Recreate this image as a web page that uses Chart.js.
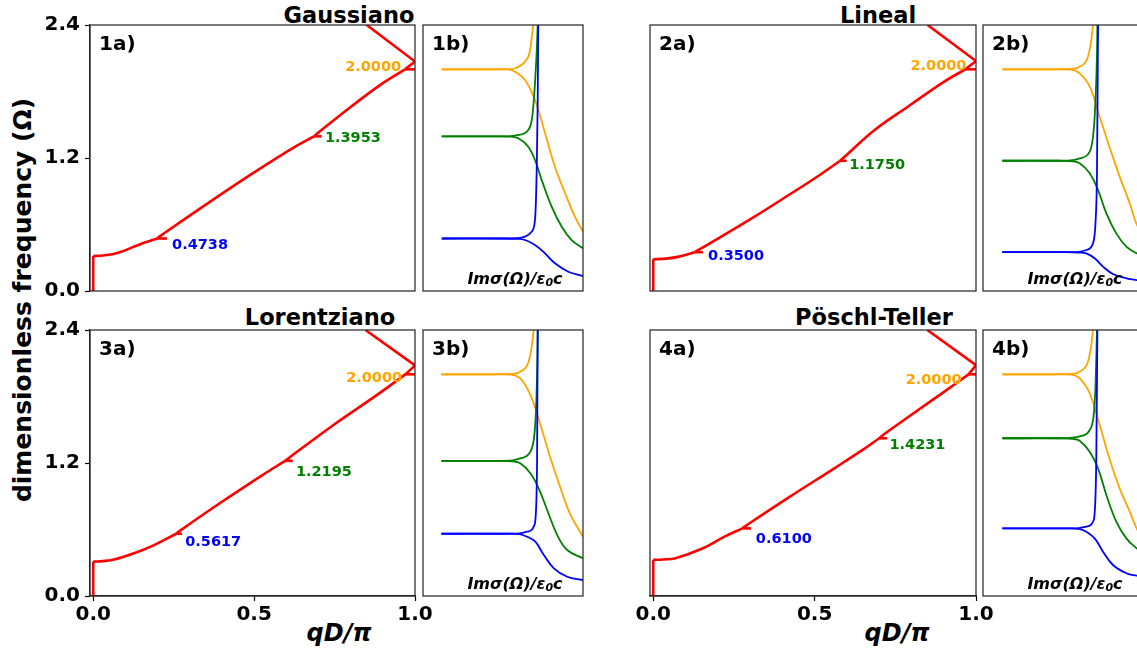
<!DOCTYPE html>
<html>
<head>
<meta charset="utf-8">
<script src="https://cdn.jsdelivr.net/npm/chart.js@4.4.0/dist/chart.umd.min.js"></script>
<style>
  html, body { margin: 0; padding: 0; background: #fff; }
  body { width: 1137px; height: 652px; position: relative; overflow: hidden; font-family: 'DejaVu Sans', sans-serif; }
  canvas { position: absolute; }
  .txt { position: absolute; white-space: nowrap; font-weight: bold; line-height: 1; color: #000; }
  .title { font-size: 22.5px; transform: translate(-50%, -50%); }
  .xlab { font-size: 24px; font-style: italic; transform: translate(-50%, -50%); }
  .plab { font-size: 20px; transform: translateY(-50%); }
  .imlab { font-size: 16px; font-style: italic; transform: translate(-50%, -100%); }
  .imlab sub { font-size: 11px; vertical-align: -2px; }
  .ann { font-size: 14.5px; transform: translateY(-50%); }
</style>
</head>
<body>

<div class="txt title" style="left:349px; top:15px;">Gaussiano</div>
<div class="txt title" style="left:878px; top:15px;">Lineal</div>
<div class="txt title" style="left:320px; top:317px;">Lorentziano</div>
<div class="txt title" style="left:874px; top:317px;">Pöschl-Teller</div>
<div class="txt" style="left:22px; top:300px; font-size:25px; transform:translate(-50%,-50%) rotate(-90deg);">dimensionless frequency (Ω)</div>
<div class="txt xlab" style="left:339px; top:633px;">qD/π</div>
<div class="txt xlab" style="left:897px; top:633px;">qD/π</div>

<script>
// ejes
var xTicks = [0, 0.5, 1.0];
var yTicks = [0, 1.2, 2.4];
var xRangeA = [-0.01, 1.0];
var xRangeB = [0, 1];
var yRange = [0, 2.4];

// bandas (qD/pi, Omega): tramos curvos
var a1Bands = [
  [[0,0.316],[0.03,0.32],[0.063,0.334],[0.095,0.362],[0.125,0.398],[0.16,0.437],[0.198,0.4738]],
  [[0.198,0.4738],[0.21,0.50],[0.35,0.78],[0.50,1.07],[0.62,1.29],[0.686,1.3953]],
  [[0.686,1.3953],[0.70,1.43],[0.80,1.66],[0.90,1.875],[0.969,2.0]]
];
// tramos rectos: subida en q=0, espolones y pico en q=1
var a1Straight = [
  [[0,0],[0,0.316]],
  [[0.198,0.4738],[0.229,0.4738]],
  [[0.686,1.3953],[0.71,1.3953]],
  [[0.969,2.0],[1.0,2.0]],
  [[0.969,2.0],[1.0,2.07],[0.85,2.4]]
];

var a2Bands = [
  [[0,0.286],[0.04,0.292],[0.08,0.31],[0.128,0.35]],
  [[0.128,0.35],[0.14,0.37],[0.207,0.484],[0.314,0.671],[0.42,0.866],[0.516,1.047],[0.579,1.175]],
  [[0.579,1.175],[0.60,1.23],[0.686,1.453],[0.792,1.669],[0.898,1.883],[0.967,2.0]]
];
var a2Straight = [
  [[0,0],[0,0.286]],
  [[0.128,0.35],[0.154,0.35]],
  [[0.579,1.175],[0.599,1.175]],
  [[0.967,2.0],[1.0,2.0]],
  [[0.967,2.0],[1.0,2.075],[0.85,2.4]]
];

var a3Bands = [
  [[0,0.31],[0.03,0.315],[0.068,0.332],[0.127,0.386],[0.186,0.455],[0.258,0.5617]],
  [[0.258,0.5617],[0.27,0.59],[0.40,0.85],[0.52,1.08],[0.596,1.2195]],
  [[0.596,1.2195],[0.61,1.25],[0.75,1.55],[0.88,1.81],[0.97,2.0]]
];
var a3Straight = [
  [[0,0],[0,0.31]],
  [[0.258,0.5617],[0.276,0.5617]],
  [[0.596,1.2195],[0.62,1.2195]],
  [[0.97,2.0],[1.0,2.0]],
  [[0.97,2.0],[1.0,2.08],[0.846,2.4]]
];

var a4Bands = [
  [[0,0.326],[0.03,0.33],[0.069,0.341],[0.154,0.431],[0.218,0.531],[0.276,0.61]],
  [[0.276,0.61],[0.29,0.64],[0.42,0.89],[0.56,1.15],[0.65,1.32],[0.70,1.4231]],
  [[0.70,1.4231],[0.715,1.46],[0.80,1.635],[0.90,1.84],[0.977,2.0]]
];
var a4Straight = [
  [[0,0],[0,0.326]],
  [[0.276,0.61],[0.303,0.61]],
  [[0.70,1.4231],[0.725,1.4231]],
  [[0.977,2.0],[1.0,2.0]],
  [[0.977,2.0],[1.0,2.083],[0.849,2.4]]
];

// valores marcados y donde va cada etiqueta
var kinks1 = [0.4738, 1.3953, 2.0];
var kinks2 = [0.35, 1.175, 2.0];
var kinks3 = [0.5617, 1.2195, 2.0];
var kinks4 = [0.61, 1.4231, 2.0];
var kinkLabelAt1 = [[0.245,0.424],[0.72,1.39],[0.783,2.03]];
var kinkLabelAt2 = [[0.17,0.325],[0.607,1.146],[0.797,2.04]];
var kinkLabelAt3 = [[0.286,0.496],[0.63,1.131],[0.786,1.976]];
var kinkLabelAt4 = [[0.318,0.523],[0.732,1.371],[0.782,1.958]];

// Im sigma (unidades arbitrarias, 0..1 del panel), Omega
var b1BlueUp = [[0.117,0.4738],[0.50,0.4738],[0.58,0.476],[0.6375,0.49],[0.679,0.535],[0.70,0.641],[0.711,1.12],[0.717,1.723],[0.72,2.4]];
var b1BlueDown = [[0.117,0.4738],[0.50,0.4738],[0.58,0.471],[0.6375,0.46],[0.70,0.415],[0.7625,0.34],[0.825,0.25],[0.908,0.174],[1.0,0.135]];
var b1GreenUp = [[0.117,1.3953],[0.47,1.3953],[0.55,1.398],[0.596,1.408],[0.658,1.453],[0.683,1.573],[0.70,1.877],[0.711,2.174],[0.717,2.4]];
var b1GreenDown = [[0.117,1.3953],[0.47,1.3953],[0.55,1.392],[0.596,1.378],[0.658,1.302],[0.70,1.182],[0.742,1.0],[0.804,0.761],[0.867,0.58],[0.929,0.46],[1.0,0.385]];
var b1OrangeUp = [[0.117,2.0],[0.45,2.0],[0.54,2.002],[0.575,2.01],[0.6375,2.07],[0.669,2.17],[0.683,2.33],[0.69,2.4]];
var b1OrangeDown = [[0.117,2.0],[0.45,2.0],[0.54,1.998],[0.575,1.979],[0.6375,1.904],[0.70,1.723],[0.7625,1.426],[0.825,1.119],[0.8875,0.884],[0.95,0.668],[1.0,0.535]];

var b2BlueUp = [[0.121,0.35],[0.52,0.35],[0.60,0.353],[0.646,0.37],[0.6875,0.43],[0.704,0.64],[0.7125,1.09],[0.719,2.4]];
var b2BlueDown = [[0.121,0.35],[0.52,0.35],[0.60,0.347],[0.646,0.34],[0.698,0.295],[0.75,0.22],[0.8125,0.153],[0.896,0.114],[0.96,0.099],[1.0,0.094]];
var b2GreenUp = [[0.121,1.175],[0.48,1.175],[0.56,1.18],[0.604,1.197],[0.667,1.257],[0.692,1.453],[0.704,1.753],[0.7125,2.144],[0.715,2.4]];
var b2GreenDown = [[0.121,1.175],[0.48,1.175],[0.56,1.17],[0.604,1.152],[0.667,1.062],[0.719,0.911],[0.771,0.70],[0.833,0.52],[0.896,0.40],[0.96,0.34],[1.0,0.31]];
var b2OrangeUp = [[0.121,2.0],[0.45,2.0],[0.55,2.003],[0.604,2.024],[0.656,2.114],[0.677,2.265],[0.6875,2.4]];
var b2OrangeDown = [[0.121,2.0],[0.45,2.0],[0.55,1.997],[0.604,1.964],[0.667,1.844],[0.729,1.573],[0.79,1.302],[0.854,1.032],[0.917,0.791],[0.958,0.61],[1.0,0.50]];

var b3BlueUp = [[0.115,0.5617],[0.52,0.5617],[0.60,0.565],[0.65,0.58],[0.696,0.64],[0.709,0.881],[0.713,1.242],[0.717,2.4]];
var b3BlueDown = [[0.115,0.5617],[0.52,0.5617],[0.60,0.558],[0.65,0.535],[0.702,0.49],[0.755,0.37],[0.818,0.25],[0.901,0.174],[1.0,0.144]];
var b3GreenUp = [[0.115,1.2195],[0.48,1.2195],[0.56,1.224],[0.608,1.242],[0.671,1.302],[0.698,1.483],[0.709,1.783],[0.715,2.144],[0.717,2.4]];
var b3GreenDown = [[0.115,1.2195],[0.48,1.2195],[0.56,1.215],[0.608,1.197],[0.671,1.107],[0.723,0.971],[0.776,0.776],[0.839,0.55],[0.901,0.415],[1.0,0.34]];
var b3OrangeUp = [[0.115,2.0],[0.45,2.0],[0.55,2.003],[0.608,2.024],[0.66,2.114],[0.681,2.265],[0.692,2.4]];
var b3OrangeDown = [[0.115,2.0],[0.45,2.0],[0.55,1.997],[0.608,1.964],[0.671,1.814],[0.734,1.543],[0.797,1.242],[0.86,0.971],[0.922,0.731],[1.0,0.535]];

var b4BlueUp = [[0.121,0.61],[0.52,0.61],[0.60,0.613],[0.646,0.626],[0.692,0.686],[0.704,0.941],[0.708,1.242],[0.715,2.4]];
var b4BlueDown = [[0.121,0.61],[0.52,0.61],[0.60,0.606],[0.646,0.58],[0.698,0.52],[0.75,0.40],[0.8125,0.28],[0.896,0.205],[0.96,0.183],[1.0,0.175]];
var b4GreenUp = [[0.121,1.4231],[0.48,1.4231],[0.56,1.428],[0.604,1.44],[0.667,1.498],[0.694,1.663],[0.704,1.934],[0.71,2.265],[0.7125,2.4]];
var b4GreenDown = [[0.121,1.4231],[0.48,1.4231],[0.56,1.418],[0.604,1.40],[0.667,1.302],[0.719,1.152],[0.771,0.911],[0.833,0.671],[0.896,0.52],[0.96,0.43],[1.0,0.39]];
var b4OrangeUp = [[0.121,2.0],[0.45,2.0],[0.55,2.003],[0.604,2.024],[0.656,2.114],[0.677,2.265],[0.6875,2.4]];
var b4OrangeDown = [[0.121,2.0],[0.45,2.0],[0.55,1.997],[0.604,1.964],[0.667,1.829],[0.729,1.543],[0.79,1.242],[0.854,0.971],[0.917,0.761],[0.96,0.61],[1.0,0.50]];

var levelColors = ['#0000ff', '#008000', '#ffa500'];

Chart.defaults.font.family = 'DejaVu Sans';

// marco completo alrededor del area de datos
var frame = {
    id: 'frame',
    afterDatasetsDraw: function(chart) {
        var a = chart.chartArea, ctx = chart.ctx;
        ctx.save();
        ctx.strokeStyle = '#222';
        ctx.lineWidth = 1.2;
        ctx.strokeRect(a.left, a.top, a.right - a.left, a.bottom - a.top);
        ctx.restore();
    }
};

// mode: 'straight', 'spline' o 'monotone'
function line(points, color, width, mode) {
    return {
        data: points.map(function(p) { return { x: p[0], y: p[1] }; }),
        showLine: true,
        borderColor: color,
        borderWidth: width,
        borderJoinStyle: 'round',
        pointRadius: 0,
        fill: false,
        tension: mode === 'spline' ? 0.4 : 0,
        cubicInterpolationMode: mode === 'monotone' ? 'monotone' : 'default'
    };
}

function addText(cls, html, left, top, color) {
    var d = document.createElement('div');
    d.className = 'txt ' + cls;
    d.innerHTML = html;
    d.style.left = left + 'px';
    d.style.top = top + 'px';
    if (color) d.style.color = color;
    document.body.appendChild(d);
    return d;
}

function makeChart(box, pad, xRange, datasets, withY, withX) {
    var canvas = document.createElement('canvas');
    canvas.width = box[2];
    canvas.height = box[3];
    canvas.style.left = box[0] + 'px';
    canvas.style.top = box[1] + 'px';
    document.body.appendChild(canvas);
    var tickFont = { family: 'DejaVu Sans', size: 20, weight: 'bold' };
    var chart = new Chart(canvas.getContext('2d'), {
        type: 'scatter',
        data: { datasets: datasets },
        options: {
            responsive: false,
            animation: false,
            events: [],
            layout: { padding: pad },
            plugins: { legend: { display: false }, tooltip: { enabled: false } },
            scales: {
                x: {
                    type: 'linear', min: xRange[0], max: xRange[1],
                    display: withX,
                    afterBuildTicks: function(s) { s.ticks = xTicks.map(function(v) { return { value: v }; }); },
                    afterFit: function(s) { s.height = withX ? 30 : 0; },
                    grid: { drawOnChartArea: false, drawTicks: true, tickLength: 5, color: '#000', tickWidth: 1.2 },
                    border: { display: true, color: '#222', width: 1.2 },
                    ticks: { font: tickFont, color: '#000', padding: 2, maxRotation: 0, autoSkip: false,
                             callback: function(v) { return v.toFixed(1); } }
                },
                y: {
                    type: 'linear', min: yRange[0], max: yRange[1],
                    display: withY,
                    afterBuildTicks: function(s) { s.ticks = yTicks.map(function(v) { return { value: v }; }); },
                    afterFit: function(s) { s.width = withY ? 90 : 0; },
                    grid: { drawOnChartArea: false, drawTicks: true, tickLength: 5, color: '#000', tickWidth: 1.2 },
                    border: { display: true, color: '#222', width: 1.2 },
                    ticks: { font: tickFont, color: '#000', padding: 5, autoSkip: false,
                             callback: function(v) { return v.toFixed(1); } }
                }
            }
        },
        plugins: [frame]
    });
    return chart;
}

function bandPanel(name, box, pad, bands, straight, kinks, labelAt, withY, withX) {
    var sets = [];
    bands.forEach(function(b) { sets.push(line(b, '#ff0000', 2.6, 'spline')); });
    straight.forEach(function(s) { sets.push(line(s, '#ff0000', 2.6, 'straight')); });
    var chart = makeChart(box, pad, xRangeA, sets, withY, withX);
    var a = chart.chartArea;
    addText('plab', name, box[0] + a.left + 9, box[1] + a.top + 18);
    for (var i = 0; i < kinks.length; i++) {
        var px = box[0] + chart.scales.x.getPixelForValue(labelAt[i][0]);
        var py = box[1] + chart.scales.y.getPixelForValue(labelAt[i][1]);
        addText('ann', kinks[i].toFixed(4), px, py, levelColors[i]);
    }
}

function sigmaPanel(name, box, pad, branches) {
    var sets = [];
    for (var i = 0; i < branches.length; i++) {
        sets.push(line(branches[i][0], levelColors[i], 1.8, 'monotone'));
        sets.push(line(branches[i][1], levelColors[i], 1.8, 'spline'));
    }
    var chart = makeChart(box, pad, xRangeB, sets, false, false);
    var a = chart.chartArea;
    addText('plab', name, box[0] + a.left + 9, box[1] + a.top + 18);
    addText('imlab', 'Imσ(Ω)/ε<sub>0</sub>c', box[0] + a.left + 92, box[1] + a.bottom - 3);
}

// fila superior
bandPanel('1a)', [0, 0, 440, 320], { left: 0, top: 25, right: 25, bottom: 29 }, a1Bands, a1Straight, kinks1, kinkLabelAt1, true, false);
sigmaPanel('1b)', [418, 0, 175, 320], { left: 5, top: 25, right: 10, bottom: 29 },
    [[b1BlueUp, b1BlueDown], [b1GreenUp, b1GreenDown], [b1OrangeUp, b1OrangeDown]]);
bandPanel('2a)', [560, 0, 440, 320], { left: 90, top: 25, right: 24, bottom: 29 }, a2Bands, a2Straight, kinks2, kinkLabelAt2, false, false);
sigmaPanel('2b)', [978, 0, 175, 320], { left: 5, top: 25, right: 10, bottom: 29 },
    [[b2BlueUp, b2BlueDown], [b2GreenUp, b2GreenDown], [b2OrangeUp, b2OrangeDown]]);

// fila inferior
bandPanel('3a)', [0, 305, 440, 340], { left: 0, top: 25, right: 25, bottom: 19 }, a3Bands, a3Straight, kinks3, kinkLabelAt3, true, true);
sigmaPanel('3b)', [418, 305, 175, 320], { left: 5, top: 25, right: 10, bottom: 29 },
    [[b3BlueUp, b3BlueDown], [b3GreenUp, b3GreenDown], [b3OrangeUp, b3OrangeDown]]);
bandPanel('4a)', [560, 305, 440, 340], { left: 90, top: 25, right: 24, bottom: 19 }, a4Bands, a4Straight, kinks4, kinkLabelAt4, false, true);
sigmaPanel('4b)', [978, 305, 175, 320], { left: 5, top: 25, right: 10, bottom: 29 },
    [[b4BlueUp, b4BlueDown], [b4GreenUp, b4GreenDown], [b4OrangeUp, b4OrangeDown]]);
</script>
</body>
</html>
